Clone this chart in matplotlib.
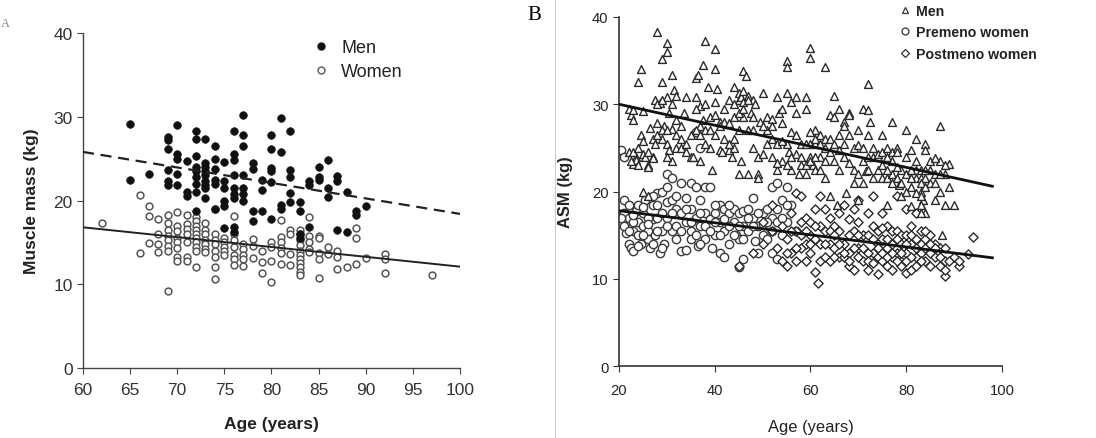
import matplotlib
matplotlib.use("Agg")
import matplotlib.pyplot as plt
from matplotlib.lines import Line2D
from matplotlib import font_manager

# ---------------- Panel A data ----------------
men_a_age = [65, 65, 67,
             69, 69, 69, 69, 69, 69,
             70, 70, 70, 70, 70,
             71, 71, 71,
             72, 72, 72, 72, 72, 72, 72, 72, 72,
             73, 73, 73, 73, 73, 73, 73, 73, 73,
             74, 74, 74, 74, 74, 74,
             75, 75, 75, 75, 75, 75,
             76, 76, 76, 76, 76, 76, 76, 76, 76,
             77, 77, 77, 77, 77, 77, 77,
             78, 78, 78, 78,
             79, 79, 79,
             80, 80, 80, 80, 80, 80,
             81, 81, 81, 81,
             82, 82, 82, 82, 82,
             83, 83, 83, 83,
             84, 84, 84,
             85, 85, 85,
             86, 86, 86,
             87, 87, 87,
             88, 88,
             89, 89,
             90]
men_a_mass = [29.1, 22.5, 23.2,
              27.6, 27.2, 26.1, 23.6, 22.3, 21.8,
              29.0, 25.5, 25.0, 23.2, 21.8,
              24.7, 21.0, 20.5,
              28.3, 27.3, 25.3, 24.0, 23.5, 22.8, 22.0, 21.0, 18.7,
              27.3, 24.5, 24.0, 23.5, 23.0, 22.3, 21.8, 21.5, 20.3,
              26.5, 25.0, 23.8, 22.5, 22.0, 19.0,
              24.6, 22.3, 21.5, 20.0, 19.3, 16.7,
              28.3, 25.5, 24.8, 23.0, 21.5, 20.8, 20.3, 16.8, 16.2,
              30.2, 27.8, 26.5, 23.0, 21.5, 20.8, 20.0,
              24.5, 23.8, 18.8, 17.5,
              22.5, 21.3, 18.8,
              27.8, 26.1, 23.9, 23.5, 22.2, 17.8,
              29.8, 25.8, 19.5, 19.0,
              28.3, 23.7, 22.8, 20.9, 19.8,
              19.8, 18.7, 16.0, 15.5,
              22.3, 21.8, 16.8,
              24.0, 22.8, 22.4,
              24.8, 21.5, 20.4,
              22.9, 22.3, 16.5,
              21.0, 16.2,
              18.7, 18.3,
              19.4]

women_a_age = [62, 66, 66, 67, 67, 67, 68, 68, 68, 68,
               69, 69, 69, 69, 69, 69, 69, 69,
               70, 70, 70, 70, 70, 70, 70, 70,
               71, 71, 71, 71, 71, 71, 71,
               72, 72, 72, 72, 72, 72, 72, 72, 72, 72,
               73, 73, 73, 73, 73, 73, 73,
               74, 74, 74, 74, 74, 74, 74, 74,
               75, 75, 75, 75, 75,
               76, 76, 76, 76, 76, 76, 76,
               77, 77, 77, 77, 77,
               78, 78, 78,
               79, 79, 79,
               80, 80, 80, 80,
               81, 81, 81, 81, 81, 81,
               82, 82, 82, 82,
               83, 83, 83, 83, 83, 83, 83, 83, 83, 83, 83,
               84, 84, 84, 84, 84,
               85, 85, 85, 85, 85,
               86, 86, 87, 87, 87, 88, 89, 89, 89, 90,
               92, 92, 92, 97]
women_a_mass = [17.3, 20.6, 13.7, 19.3, 18.2, 14.9, 17.8, 16.0, 14.8, 13.8,
                18.3, 17.3, 16.5, 15.8, 15.3, 14.6, 14.0, 9.2,
                18.6, 17.0, 16.3, 15.5, 15.0, 14.3, 13.3, 12.8,
                18.3, 17.2, 16.6, 16.0, 15.0, 13.3, 12.8,
                18.0, 17.5, 17.0, 16.5, 16.0, 15.5, 15.0, 14.5, 14.0, 12.0,
                17.3, 16.5, 16.0, 15.3, 14.8, 14.2, 13.8,
                19.0, 16.0, 15.3, 14.8, 14.0, 13.3, 12.0, 10.6,
                15.5, 15.0, 14.5, 14.0, 13.5,
                18.1, 16.0, 15.3, 14.5, 13.5, 13.0, 12.3,
                14.8, 14.2, 13.5, 13.0, 12.2,
                15.4, 14.6, 13.1,
                14.0, 12.7, 11.4,
                15.1, 14.5, 12.8, 10.3,
                17.7, 15.6, 15.1, 14.3, 13.7, 12.4,
                16.5, 16.0, 13.6, 12.3,
                16.5, 16.0, 15.3, 14.7, 14.0, 13.5, 13.0, 12.5, 12.0, 11.5, 11.1,
                18.0, 15.8, 15.0, 14.2, 13.8,
                15.8, 15.5, 13.7, 13.0, 10.8,
                14.5, 13.6, 14.0, 13.3, 11.8, 12.1, 16.7, 15.5, 12.4, 13.1,
                13.6, 13.0, 11.4, 11.1]

fit_a_age = [60, 100]
fit_a_men = [25.8, 18.4]
fit_a_women = [16.8, 12.1]

# ---------------- Panel B data ----------------
men_b = [(22, 29.5), (22.5, 28.8), (23, 28.2), (23, 29.3), (23.5, 24.0), (23, 23.2), (23.5, 23.6),
         (24, 32.5), (24.5, 34.0), (24.5, 26.5), (25, 25.8), (25, 29.2), (25, 24.3), (25.5, 24.0),
         (26, 23.0), (26, 24.5), (26.5, 27.3), (25, 20.0), (26, 19.5), (27, 24.0), (27, 26.0),
         (27.5, 30.5), (28, 38.3), (28, 27.8), (28.5, 30.2), (29, 35.2), (29, 32.5), (29, 26.0),
         (29.5, 27.5), (30, 37.0), (30, 36.0), (30, 30.8), (30, 25.5), (30.5, 29.0), (30.5, 24.8),
         (31, 33.3), (31, 27.2), (31, 23.5), (31.5, 31.6), (32, 31.0), (32, 28.2), (32, 25.0),
         (33, 27.5), (33, 25.0), (33.5, 29.0), (34, 30.8), (34, 25.5), (35, 24.0), (35.5, 24.0),
         (36, 33.0), (36, 30.8), (36.5, 33.3), (37, 29.8), (37, 27.5), (37.5, 34.5), (37.5, 28.2),
         (38, 37.2), (38, 30.0), (38, 27.0), (38.5, 32.0), (39, 28.5), (39, 25.0), (39.5, 22.5),
         (40, 36.3), (40, 34.0), (40, 30.3), (40, 28.8), (40.5, 31.8), (41, 28.0), (41, 24.8),
         (41.5, 24.5), (42, 28.0), (42, 29.5), (43, 27.8), (43, 24.8), (43.5, 24.0), (44, 32.0),
         (44, 25.0), (44, 26.0), (45, 31.3), (45, 30.5), (45, 22.0), (45.5, 30.8), (45.5, 23.5),
         (46, 33.8), (46, 30.3), (46, 28.5), (46.5, 33.2), (47, 31.0), (47, 27.0), (47, 22.0),
         (47.5, 29.0), (48, 30.5), (48, 28.5), (48.5, 30.0), (49, 24.0), (49, 22.0), (49, 21.5),
         (49.5, 28.0), (50, 31.3), (50, 24.3), (51, 28.5), (51, 27.0), (52, 28.3), (52, 27.5),
         (53, 30.8), (53, 22.5), (53.5, 29.0), (54, 29.5), (54, 27.8), (54, 23.5), (55, 35.0),
         (55, 34.3), (55, 31.3), (55, 25.5), (55.5, 24.5), (56, 30.3), (56, 26.8), (56, 22.5),
         (57, 30.8), (57, 29.0), (57, 24.3), (57.5, 22.0), (58, 24.0), (58, 23.0), (59, 30.8),
         (59, 29.5), (59, 23.0), (59, 22.0), (60, 36.5), (60, 35.3), (60, 25.5), (60, 24.0),
         (60.5, 23.0), (61, 27.0), (61, 25.5), (61, 22.5), (62, 26.5), (62, 24.0), (62, 22.5),
         (63, 34.3), (63, 26.0), (63, 21.5), (64, 28.8), (64, 26.0), (64, 19.5), (65, 31.0),
         (65, 28.5), (65, 25.5), (65.5, 18.5), (66, 22.5), (66, 29.5), (67, 28.0), (67, 27.5),
         (67, 24.0), (67.5, 19.8), (68, 29.0), (68, 28.8), (68, 23.3), (69, 25.0), (69, 21.0),
         (70, 25.3), (70, 19.0), (71, 29.5), (71, 25.0), (71, 21.0), (71.5, 22.3), (72, 32.3),
         (72, 29.3), (72, 26.5), (72, 22.5), (72.5, 28.0), (73, 24.0), (73, 21.5), (74, 24.0),
         (74, 24.3), (75, 26.5), (75, 24.5), (75, 21.5), (76, 24.0), (76, 21.5), (76, 18.5),
         (77, 28.0), (77, 24.5), (77, 22.0), (78, 25.0), (78, 24.5), (78, 21.5), (78.5, 20.8),
         (79, 22.5), (79, 19.5), (80, 27.0), (80, 22.0), (81, 24.8), (81, 20.5), (81, 18.3),
         (82, 26.0), (82, 22.5), (82, 21.5), (83, 21.5), (83, 22.5), (83, 20.0), (83.5, 19.0),
         (83.5, 18.0), (84, 25.5), (84, 24.8), (84, 21.5), (84, 17.5), (85, 22.5), (85, 21.0),
         (86, 19.0), (86, 22.0), (87, 27.5), (87, 23.5), (87, 20.0), (87.5, 15.0), (88, 22.0),
         (88, 18.5), (89, 20.5), (89, 23.2), (90, 18.5),
         (22, 24.5), (22.5, 23.5), (23, 24.5), (24, 23.0), (24, 25.0), (26, 22.8), (27, 23.8),
         (27.5, 25.5), (28, 26.5), (28, 30.0), (29, 30.5), (29, 27.0), (30, 27.0), (30, 24.0),
         (31, 30.0), (32, 26.5), (33, 26.0), (34, 24.5), (35, 26.5), (36, 29.5), (36, 27.0),
         (37, 26.5), (37, 23.5), (38, 25.5), (39, 27.0), (40, 26.5), (41, 27.5), (42, 26.0),
         (43, 25.5), (43, 30.5), (44, 28.5), (44, 30.0), (45, 29.0), (45, 27.0), (46, 31.5),
         (46, 29.5), (47, 30.5), (48, 27.0), (48, 25.0), (50, 27.5), (51, 25.5), (52, 26.0),
         (52, 24.0), (53, 23.3), (53, 25.5), (54, 25.8), (55, 23.0), (56, 24.0), (57, 26.5),
         (58, 25.5), (59, 25.5), (60, 26.8), (60, 23.5), (61, 24.0), (61, 26.0), (62, 25.5),
         (63, 25.0), (63, 23.5), (64, 24.5), (65, 23.5), (66, 24.8), (66, 26.5), (67, 25.5),
         (68, 26.5), (69, 22.5), (70, 22.0), (70, 27.0), (71, 23.5), (72, 24.0), (73, 25.0),
         (74, 22.5), (75, 23.0), (76, 22.5), (76, 25.0), (77, 23.5), (77, 21.0), (78, 22.8),
         (79, 21.0), (80, 24.0), (80, 20.0), (81, 22.5), (81, 21.5), (82, 19.8), (82, 23.5),
         (83, 21.0), (83, 19.5), (83, 18.5), (83, 17.5), (84, 20.5), (84, 22.5), (85, 23.5),
         (86, 21.0), (86, 23.8), (87, 22.0), (88, 23.0)]

premeno_b = [(20.5, 24.8), (21, 24.0), (21, 19.0), (21, 17.5), (21.5, 16.5), (21.5, 15.3), (22, 14.0),
             (22, 17.0), (22.5, 13.5), (23, 15.5), (23, 13.2), (23.5, 17.8), (24, 18.5), (24, 16.5),
             (24.5, 14.0), (25, 16.0), (25, 17.5), (25.5, 19.0), (26, 15.5), (26, 14.5), (26.5, 13.5),
             (27, 18.5), (27, 16.8), (27.5, 15.0), (28, 19.8), (28, 17.0), (28.5, 13.0), (29, 20.0),
             (29, 15.5), (29.5, 14.0), (30, 22.0), (30, 18.8), (30, 17.0), (31, 21.5), (31, 19.0),
             (31, 15.5), (32, 18.0), (32, 16.0), (33, 21.0), (33, 17.5), (33, 13.2), (34, 19.3),
             (34, 16.5), (34, 13.3), (35, 21.0), (35, 18.0), (35, 15.5), (36, 26.8), (36, 20.5),
             (36, 17.0), (36.5, 13.8), (37, 25.0), (37, 19.0), (37, 16.0), (38, 20.5), (38, 17.5),
             (38, 14.5), (39, 20.5), (39, 16.8), (39.5, 13.5), (40, 17.5), (40, 15.0), (41, 18.5),
             (41, 16.5), (41, 13.0), (42, 18.0), (42, 15.5), (42, 12.5), (43, 17.5), (43, 14.0),
             (44, 18.0), (44, 16.5), (44.5, 15.0), (45, 17.5), (45, 14.5), (45, 11.3), (46, 17.8),
             (46, 16.0), (46, 12.3), (47, 18.0), (47, 15.5), (48, 19.2), (48, 17.0), (48.5, 14.3),
             (49, 16.0), (49, 13.0), (50, 17.5), (50, 15.0), (51, 18.0), (51, 14.5), (52, 20.5),
             (52, 17.0), (52, 13.0), (53, 21.0), (53, 16.5), (53, 12.3), (54, 19.0), (54, 15.0),
             (55, 20.5), (55, 16.5), (56, 18.5), (57, 15.5),
             (20.5, 17.0), (21, 16.0), (22, 15.5), (22, 18.5), (23, 16.5), (23, 17.3), (24, 15.0),
             (24, 13.8), (25, 15.0), (25, 18.2), (26, 17.0), (26, 16.3), (27, 14.0), (27, 19.5),
             (28, 15.5), (28, 18.5), (29, 17.5), (29, 13.5), (30, 16.0), (30, 20.5), (31, 17.5),
             (32, 19.5), (32, 14.5), (33, 15.5), (34, 18.0), (35, 16.5), (35, 14.5), (36, 15.0),
             (37, 17.5), (37, 14.0), (38, 16.0), (39, 15.5), (40, 16.5), (40, 18.5), (41, 15.0),
             (42, 16.8), (43, 16.0), (43, 18.5), (44, 15.0), (45, 16.0), (46, 14.5), (47, 17.0),
             (48, 16.0), (49, 17.5), (50, 16.3), (51, 16.5), (52, 15.5), (53, 18.0), (54, 17.0),
             (55, 18.5)]

postmeno_b = [(45, 11.5), (48, 13.0), (50, 16.5), (50, 14.0), (52, 18.5), (52, 15.5), (53, 13.5),
              (54, 16.0), (54, 12.0), (55, 14.5), (55, 11.5), (56, 17.5), (56, 13.0), (57, 19.8),
              (57, 15.5), (57, 12.0), (58, 19.5), (58, 16.5), (58, 13.5), (59, 17.0), (59, 14.0),
              (59, 12.0), (60, 16.5), (60, 15.0), (60, 13.0), (61, 18.0), (61, 14.5), (61, 10.8),
              (61.5, 9.5), (62, 19.5), (62, 16.0), (62, 12.0), (63, 18.0), (63, 15.5), (63, 12.5),
              (64, 17.0), (64, 14.0), (64, 12.0), (65, 16.0), (65, 13.5), (66, 15.5), (66, 17.5),
              (66, 12.5), (67, 18.5), (67, 14.0), (67, 12.5), (68, 16.8), (68, 13.0), (68, 11.5),
              (69, 18.0), (69, 15.5), (69, 11.0), (70, 19.0), (70, 16.5), (70, 13.5), (71, 15.0),
              (71, 12.0), (72, 17.5), (72, 15.0), (72, 11.0), (73, 19.5), (73, 16.0), (73, 13.0),
              (74, 15.5), (74, 12.5), (74, 10.5), (75, 17.5), (75, 14.5), (75, 12.0), (76, 16.0),
              (76, 13.5), (76, 11.5), (77, 15.5), (77, 14.0), (77, 12.5), (78, 19.5), (78, 15.5),
              (78, 13.0), (79, 15.0), (79, 12.0), (79, 11.5), (80, 18.0), (80, 15.0), (80, 13.0),
              (80, 10.7), (81, 16.0), (81, 14.0), (81, 11.0), (82, 17.5), (82, 14.5), (82, 12.5),
              (83, 15.5), (83, 14.0), (83, 13.0), (84, 14.5), (84, 12.0), (85, 15.0), (85, 11.5),
              (86, 14.0), (86, 12.5), (87, 13.5), (87, 11.5), (88, 12.0), (88, 10.3), (88, 11.0),
              (90, 12.5), (91, 11.5), (91, 12.0), (93, 12.8), (94, 14.8),
              (55, 13.0), (56, 15.5), (57, 13.5), (58, 15.0), (59, 15.5), (60, 14.0), (61, 16.0),
              (62, 14.0), (63, 14.0), (64, 15.5), (65, 12.5), (65, 15.0), (66, 14.0), (67, 13.0),
              (68, 15.0), (68, 12.0), (69, 13.5), (70, 15.0), (70, 12.5), (71, 13.5), (72, 13.0),
              (72, 12.0), (73, 14.5), (73, 11.8), (74, 14.0), (74, 13.5), (75, 13.0), (75, 15.8),
              (76, 14.5), (76, 12.5), (77, 13.0), (77, 11.0), (78, 14.5), (78, 12.0), (79, 14.0),
              (79, 13.0), (80, 14.0), (80, 12.0), (81, 15.0), (81, 12.5), (82, 13.5), (82, 11.5),
              (83, 12.0), (84, 13.5), (84, 15.5), (85, 13.0), (85, 14.0), (86, 13.5), (87, 12.5),
              (88, 13.5), (89, 12.0)]

fit_b_age = [20, 98]
fit_b_men = [30.0, 20.6]
fit_b_women = [17.8, 12.4]

# ---------------- fonts ----------------
installed = {f.name for f in font_manager.fontManager.ttflist}
sans = ['Liberation Sans', 'DejaVu Sans']
if 'Liberation Sans Narrow' in installed:
    narrow = ['Liberation Sans Narrow', 'DejaVu Sans']
    nscale = 1.0
else:
    narrow = sans
    nscale = 0.85

# ---------------- Figure ----------------
fig = plt.figure(figsize=(10.96, 4.39), dpi=100)
tick_col = '#333333'

# Panel A
axA = fig.add_axes([0.0757, 0.1595, 0.344, 0.763])
axA.scatter(men_a_age, men_a_mass, s=30, c='#111111', edgecolors='#111111', linewidths=0.5, zorder=3)
axA.scatter(women_a_age, women_a_mass, s=24, facecolors='white', edgecolors='#555555', linewidths=1.1, zorder=2)
axA.plot(fit_a_age, fit_a_men, ls=(0, (5, 3)), color='#222222', lw=1.6, zorder=4)
axA.plot(fit_a_age, fit_a_women, ls='-', color='#222222', lw=1.4, zorder=4)
axA.set_xlim(60, 100)
axA.set_ylim(0, 40)
axA.set_xticks(range(60, 101, 5))
axA.set_yticks(range(0, 41, 10))
for s in ['top', 'right']:
    axA.spines[s].set_visible(False)
for s in ['left', 'bottom']:
    axA.spines[s].set_color('#444444')
    axA.spines[s].set_linewidth(1.0)
axA.tick_params(direction='out', length=4, color='#444444', labelcolor=tick_col, labelsize=12.5)
axA.tick_params(axis='x', pad=6)
for lab in axA.get_xticklabels() + axA.get_yticklabels():
    lab.set_family(sans)
axA.set_xlabel('Age (years)', fontsize=12.5, fontweight='bold', family=sans, color='#222222', labelpad=14)
axA.set_ylabel('Muscle mass (kg)', fontsize=12.5, fontweight='bold', family=sans, color='#222222', labelpad=10)
hA = [Line2D([], [], ls='none', marker='o', ms=5, mfc='#111111', mec='#111111'),
      Line2D([], [], ls='none', marker='o', ms=5, mfc='white', mec='#555555', mew=1.0)]
legA = axA.legend(hA, ['Men', 'Women'], loc='upper left', bbox_to_anchor=(0.56, 1.03), frameon=False,
                  prop={'family': sans, 'size': 13}, handletextpad=0.5, labelspacing=0.4, handlelength=1.2)
for t in legA.get_texts():
    t.set_color('#222222')

# Panel B
axB = fig.add_axes([0.5648, 0.164, 0.3494, 0.795])
axB.scatter([p[0] for p in men_b], [p[1] for p in men_b], marker='^', s=32, facecolors='white',
            edgecolors='#2a2a2a', linewidths=1.0, zorder=3)
axB.scatter([p[0] for p in premeno_b], [p[1] for p in premeno_b], marker='o', s=36, facecolors='white',
            edgecolors='#3a3a3a', linewidths=1.0, zorder=2)
axB.scatter([p[0] for p in postmeno_b], [p[1] for p in postmeno_b], marker='D', s=22, facecolors='white',
            edgecolors='#2a2a2a', linewidths=1.0, zorder=2)
axB.plot(fit_b_age, fit_b_men, color='#111111', lw=2.0, zorder=4)
axB.plot(fit_b_age, fit_b_women, color='#111111', lw=2.0, zorder=4)
axB.set_xlim(20, 100)
axB.set_ylim(0, 40)
axB.set_xticks(range(20, 101, 20))
axB.set_yticks(range(0, 41, 10))
for s in ['top', 'right']:
    axB.spines[s].set_visible(False)
for s in ['left', 'bottom']:
    axB.spines[s].set_color('#333333')
    axB.spines[s].set_linewidth(1.2)
axB.tick_params(direction='out', length=4, color='#333333', labelcolor='#222222', labelsize=12.5 * nscale)
axB.tick_params(axis='x', pad=8)
for lab in axB.get_xticklabels() + axB.get_yticklabels():
    lab.set_family(narrow)
axB.set_xlabel('Age (years)', fontsize=14 * nscale, family=narrow, color='#222222', labelpad=16)
axB.set_ylabel('ASM (kg)', fontsize=14 * nscale, fontweight='bold', family=narrow, color='#222222', labelpad=14)
hB = [Line2D([], [], ls='none', marker='^', ms=5, mfc='white', mec='#333333', mew=0.9),
      Line2D([], [], ls='none', marker='o', ms=5, mfc='white', mec='#333333', mew=0.9),
      Line2D([], [], ls='none', marker='D', ms=4, mfc='white', mec='#333333', mew=0.9)]
legB = axB.legend(hB, ['Men', 'Premeno women', 'Postmeno women'], loc='upper left',
                  bbox_to_anchor=(0.695, 1.075), frameon=False,
                  prop={'family': narrow, 'size': 12 * nscale, 'weight': 'bold'},
                  handletextpad=0.3, labelspacing=0.55, handlelength=1.0)
for t in legB.get_texts():
    t.set_color('#222222')

# panel separator and labels
fig.add_artist(Line2D([0.5064, 0.5064], [0.0, 1.0], color='#cccccc', lw=0.8))
fig.text(0.4875, 0.965, 'B', fontsize=15, family=['Liberation Serif', 'DejaVu Serif'], va='center', ha='center')
fig.text(0.001, 0.945, 'A', fontsize=9, family=['Liberation Serif', 'DejaVu Serif'], va='center', ha='left',
         color='#888888')

fig.savefig('out.png', dpi=100)
